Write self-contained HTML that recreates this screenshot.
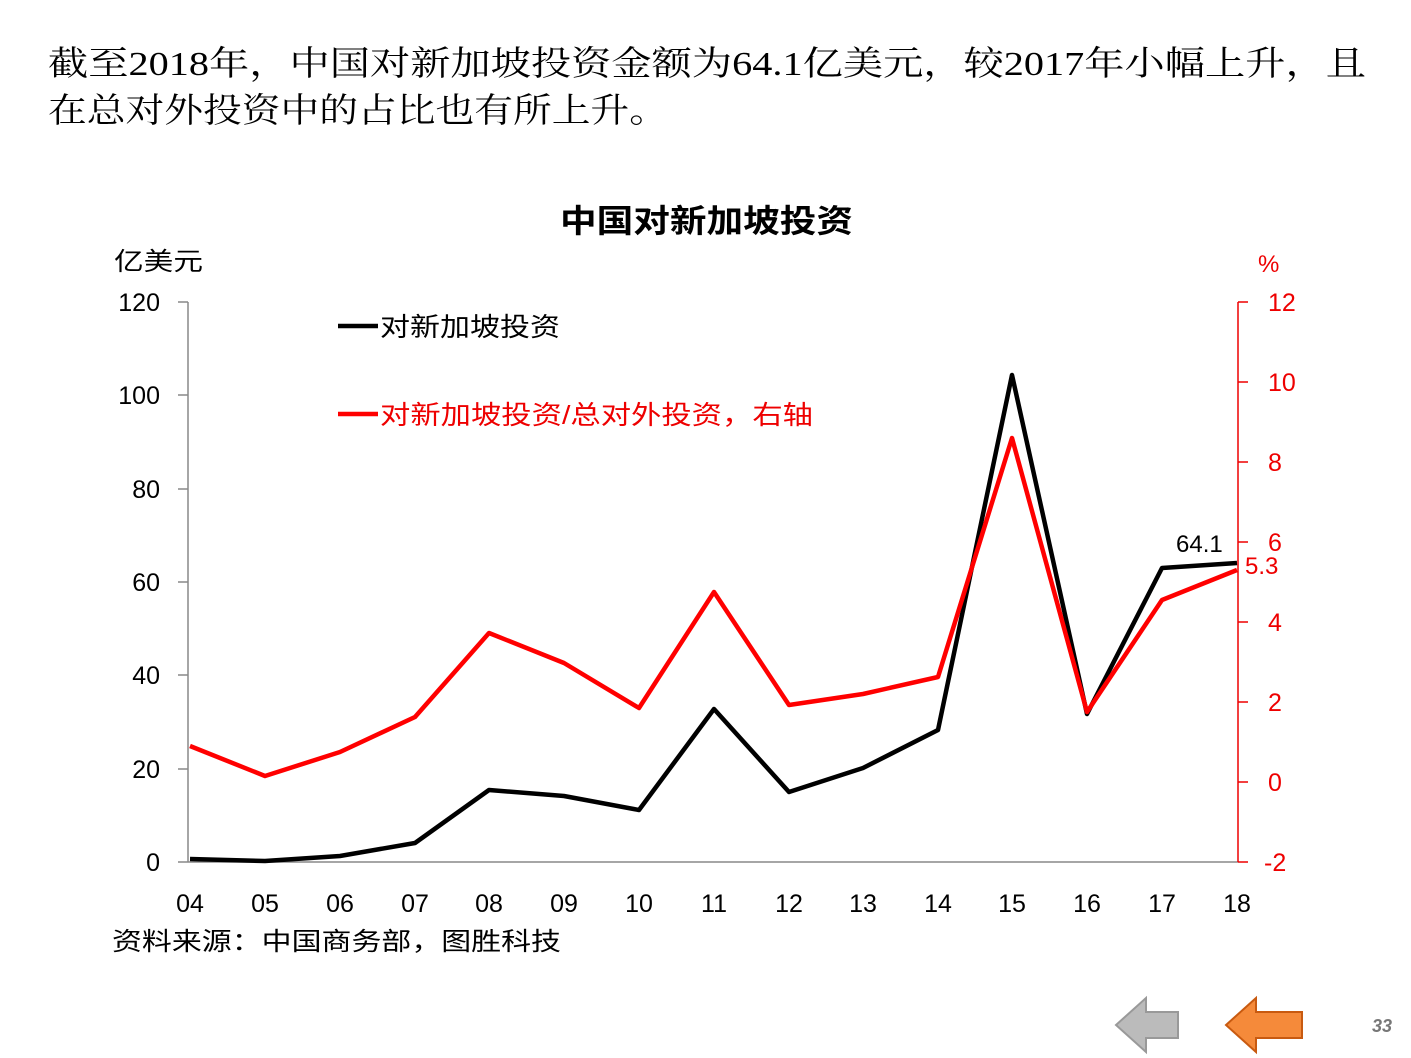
<!DOCTYPE html>
<html><head><meta charset="utf-8"><style>
body{margin:0;background:#fff;}
svg{display:block;}
</style></head><body>
<svg width="1411" height="1058" xmlns="http://www.w3.org/2000/svg" font-family="Liberation Sans, Noto Sans CJK SC, sans-serif">
<text x="48" y="75" font-size="34" font-family="Liberation Serif, Noto Serif CJK SC, serif" fill="#000" textLength="1318" lengthAdjust="spacingAndGlyphs">截至2018年，中国对新加坡投资金额为64.1亿美元，较2017年小幅上升，且</text>
<text x="48" y="122" font-size="34" font-family="Liberation Serif, Noto Serif CJK SC, serif" fill="#000" textLength="620" lengthAdjust="spacingAndGlyphs">在总对外投资中的占比也有所上升。</text>
<text x="560" y="232" font-size="32" font-weight="bold" textLength="293" lengthAdjust="spacingAndGlyphs">中国对新加坡投资</text>
<text x="114" y="270" font-size="25" textLength="89" lengthAdjust="spacingAndGlyphs">亿美元</text>
<text x="1258" y="272" font-size="24" fill="#e00">%</text>
<g stroke="#888" stroke-width="1.5">
<line x1="188" y1="302" x2="188" y2="862"/>
<line x1="178" y1="302" x2="188" y2="302"/><line x1="178" y1="395" x2="188" y2="395"/>
<line x1="178" y1="489" x2="188" y2="489"/><line x1="178" y1="582" x2="188" y2="582"/>
<line x1="178" y1="675" x2="188" y2="675"/><line x1="178" y1="769" x2="188" y2="769"/>
<line x1="178" y1="862" x2="188" y2="862"/>
<line x1="188" y1="862" x2="1238" y2="862"/>
</g>
<g font-size="25" text-anchor="end">
<text x="160" y="311">120</text><text x="160" y="404">100</text><text x="160" y="498">80</text>
<text x="160" y="591">60</text><text x="160" y="684">40</text><text x="160" y="778">20</text><text x="160" y="871">0</text>
</g>
<g stroke="#e00" stroke-width="1.5">
<line x1="1238" y1="302" x2="1238" y2="862"/>
<line x1="1238" y1="302" x2="1248" y2="302"/><line x1="1238" y1="382" x2="1248" y2="382"/>
<line x1="1238" y1="462" x2="1248" y2="462"/><line x1="1238" y1="542" x2="1248" y2="542"/>
<line x1="1238" y1="622" x2="1248" y2="622"/><line x1="1238" y1="702" x2="1248" y2="702"/>
<line x1="1238" y1="782" x2="1248" y2="782"/><line x1="1238" y1="862" x2="1248" y2="862"/>
</g>
<g font-size="25" fill="#e00">
<text x="1268" y="311">12</text><text x="1268" y="391">10</text><text x="1268" y="471">8</text>
<text x="1268" y="551">6</text><text x="1268" y="631">4</text><text x="1268" y="711">2</text>
<text x="1268" y="791">0</text><text x="1264" y="871">-2</text>
</g>
<g font-size="25" text-anchor="middle">
<text x="190" y="912">04</text><text x="265" y="912">05</text><text x="340" y="912">06</text><text x="415" y="912">07</text>
<text x="489" y="912">08</text><text x="564" y="912">09</text><text x="639" y="912">10</text><text x="714" y="912">11</text>
<text x="789" y="912">12</text><text x="863" y="912">13</text><text x="938" y="912">14</text><text x="1012" y="912">15</text>
<text x="1087" y="912">16</text><text x="1162" y="912">17</text><text x="1237" y="912">18</text>
</g>
<polyline fill="none" stroke="#000" stroke-width="4.5" stroke-linejoin="round" points="190,859 265,861 340,856 415,843 489,790 564,796 639,810 714,709 789,792 863,768 938,730 1012,375 1087,714 1162,568 1237,563"/>
<polyline fill="none" stroke="#f00" stroke-width="4.5" stroke-linejoin="round" points="190,746 265,776 340,752 415,717 489,633 564,663 639,708 714,592 789,705 863,694 938,677 1012,438 1087,712 1162,600 1237,570"/>
<line x1="338" y1="326" x2="378" y2="326" stroke="#000" stroke-width="4.5"/>
<text x="380" y="336" font-size="26" textLength="180" lengthAdjust="spacingAndGlyphs">对新加坡投资</text>
<line x1="338" y1="414" x2="378" y2="414" stroke="#f00" stroke-width="4.5"/>
<text x="380" y="424" font-size="26" fill="#e00" textLength="433" lengthAdjust="spacingAndGlyphs">对新加坡投资/总对外投资，右轴</text>
<text x="1176" y="552" font-size="24">64.1</text>
<text x="1245" y="574" font-size="24" fill="#e00">5.3</text>
<text x="112" y="950" font-size="25" textLength="449" lengthAdjust="spacingAndGlyphs">资料来源：中国商务部，图胜科技</text>
<polygon points="1116,1025 1146,998 1146,1012 1178,1012 1178,1038 1146,1038 1146,1052" fill="#bbb" stroke="#999" stroke-width="2"/>
<polygon points="1226,1025 1256,998 1256,1012 1302,1012 1302,1038 1256,1038 1256,1052" fill="#f58a3a" stroke="#c85a10" stroke-width="2"/>
<text x="1392" y="1032" font-size="18" font-style="italic" font-weight="bold" fill="#777" text-anchor="end">33</text>
</svg>
</body></html>
